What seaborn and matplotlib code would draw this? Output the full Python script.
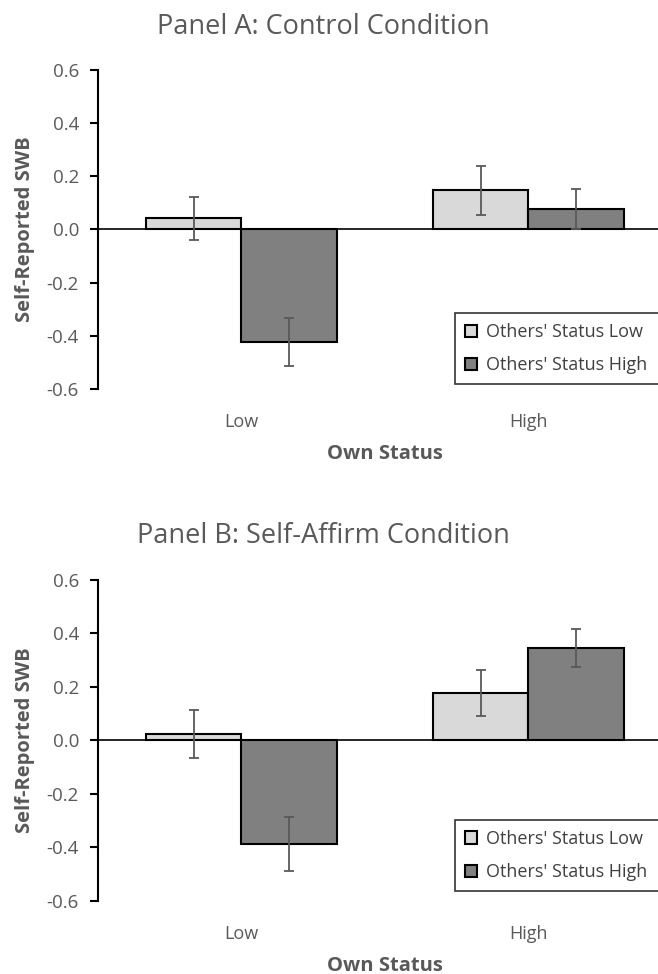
import pandas as pd
import numpy as np
import matplotlib
matplotlib.use('Agg')
import matplotlib.pyplot as plt
import seaborn as sns

#------------------------------------------------------------------------------
# data
own_status = ['Low', 'High']
others_status = ["Others' Status Low", "Others' Status High"]
panels = ['Panel A: Control Condition', 'Panel B: Self-Affirm Condition']

# means: [own Low, own High] for each others' level
ctrl_others_low = [0.042, 0.148]
ctrl_others_high = [-0.422, 0.076]
ctrl_err_low = [0.082, 0.092]
ctrl_err_high = [0.090, 0.075]

aff_others_low = [0.023, 0.177]
aff_others_high = [-0.388, 0.345]
aff_err_low = [0.090, 0.086]
aff_err_high = [0.102, 0.071]
#------------------------------------------------------------------------------

def make_df(low, high, elow, ehigh):
    rows = []
    for i, o in enumerate(own_status):
        rows.append({'own': o, 'others': others_status[0], 'swb': low[i], 'err': elow[i]})
        rows.append({'own': o, 'others': others_status[1], 'swb': high[i], 'err': ehigh[i]})
    return pd.DataFrame(rows)

dfs = [make_df(ctrl_others_low, ctrl_others_high, ctrl_err_low, ctrl_err_high),
       make_df(aff_others_low, aff_others_high, aff_err_low, aff_err_high)]

sns.set_style('white')
plt.rcParams['font.family'] = ['Open Sans', 'DejaVu Sans']

txt = '#595959'
colors = {others_status[0]: '#D9D9D9', others_status[1]: '#808080'}

fig = plt.figure(figsize=(6.58, 9.74), dpi=100)
boxes = [[0.149, 0.6006, 0.872, 0.3276], [0.149, 0.075, 0.872, 0.3300]]
leg_top = [0.238, 0.252]

for df, title, box, ltop in zip(dfs, panels, boxes, leg_top):
    ax = fig.add_axes(box)
    sns.barplot(data=df, x='own', y='swb', hue='others', order=own_status,
                hue_order=others_status, palette=colors, width=0.667,
                edgecolor='black', linewidth=1.5, errorbar=None, ax=ax,
                legend=False)
    bars = list(ax.containers)
    # error bars at bar centres
    for cont, lev in zip(bars, others_status):
        sub = df[df['others'] == lev].set_index('own').loc[own_status]
        xs = [b.get_x() + b.get_width() / 2 for b in cont]
        ax.errorbar(xs, sub['swb'].values, yerr=sub['err'].values, fmt='none',
                    ecolor='#595959', elinewidth=1.3, capsize=3.6, capthick=1.3,
                    zorder=5)
    ax.axhline(0, color='black', lw=1.2, zorder=4)
    ax.set_ylim(-0.6, 0.6)
    ax.set_xlim(-0.5, 1.5)
    ax.set_yticks(np.arange(-0.6, 0.61, 0.2))
    ax.set_yticklabels([f'{v:.1f}' for v in np.arange(-0.6, 0.61, 0.2)])
    for s in ['top', 'right', 'bottom']:
        ax.spines[s].set_visible(False)
    ax.spines['left'].set_color('black')
    ax.spines['left'].set_linewidth(1.5)
    ax.tick_params(axis='y', which='both', left=True, direction='out', length=5.8,
                   width=1.5, color='black', labelsize=13.5, labelcolor=txt, pad=8)
    ax.tick_params(axis='x', bottom=False, labelsize=13, labelcolor=txt, pad=14)
    ax.set_xlabel('Own Status', fontsize=14.5, fontweight='bold', color=txt, labelpad=9)
    ax.set_ylabel('Self-Reported SWB', fontsize=14.5, fontweight='bold', color=txt, labelpad=8)
    ax.set_title(title, fontsize=19.5, color=txt, pad=26, x=0.392)
    handles = [cont.patches[0] for cont in bars]
    # legend box runs off the right edge as in the original
    leg = ax.legend(handles, others_status, loc='upper left', mode='expand',
                    bbox_to_anchor=(0.622, ltop, 0.40, 0), frameon=True, fancybox=False,
                    edgecolor='black', fontsize=13, handlelength=0.67,
                    handleheight=0.67, handletextpad=0.5, labelspacing=0.85,
                    borderpad=0.55, borderaxespad=0)
    leg.get_frame().set_linewidth(1.2)
    for t in leg.get_texts():
        t.set_color('#404040')

fig.savefig('out.png', dpi=100)
